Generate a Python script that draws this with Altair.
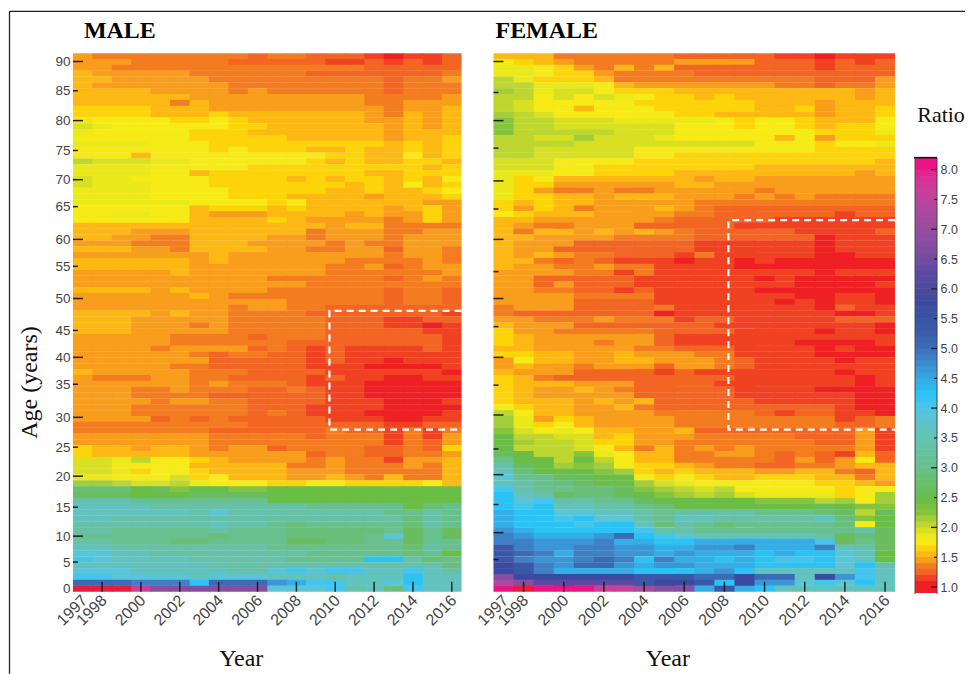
import altair as alt
import pandas as pd

years = list(range(1997, 2017))
# labelled tick positions: centre of the year's column
year_ticks = [1997.5, 1998.5, 2000.5, 2002.5, 2004.5, 2006.5, 2008.5, 2010.5, 2012.5, 2014.5, 2016.5]
inner_year_ticks = [1998.5, 2000.5, 2002.5, 2004.5, 2006.5, 2008.5, 2010.5, 2012.5, 2014.5, 2016.5]

# one character per year: level
levels = {"0":1.0,"1":1.1,"2":1.2,"3":1.3,"4":1.4,"5":1.5,"6":1.6,"7":1.7,"8":1.8,"9":1.9,
          "A":2.0,"B":2.1,"C":2.2,"D":2.4,"E":2.6,"F":2.8,"G":3.0,"H":3.3,"I":3.6,"J":3.8,
          "K":4.0,"L":4.2,"M":4.4,"N":4.6,"O":4.8,"P":5.0,"Q":5.3,"R":5.7,"S":6.2,"T":6.7,
          "U":7.2,"V":7.6,"W":8.0,"X":8.2}
color_domain = [1.0,1.1,1.2,1.3,1.4,1.5,1.6,1.7,1.8,1.9,2.0,2.1,2.2,2.4,2.6,2.8,3.0,3.3,3.6,3.8,
                4.0,4.2,4.4,4.6,4.8,5.0,5.3,5.7,6.2,6.7,7.2,7.6,8.0,8.2]
color_range = ["#EE2024","#F04223","#F26522","#F47C20","#F99D1C","#FDB813","#FDD40A","#F6EA17","#EBE91A","#D8E021",
               "#BDD630","#A3CD39","#86C440","#6ABD45","#69BD5F","#69BF78","#69C08F","#66C1A8","#62C3BE","#5BC5D8",
               "#45C4EC","#2BC3F3","#33AEE6","#3A96D6","#3E7FC6","#3C6BB6","#3958A8","#3A4AA0","#5B4AA0","#864EA1",
               "#A84A9D","#C8409A","#EA1487","#E81C3C"]

# rows from age 91 (top) to age 0 (bottom)
male_rows = [
"4"+"33333333"+"2"+"33"+"222"+"1"+"0"+"11"+"2",
"444"+"33333"+"22222"+"11"+"2"+"1"+"2"+"1"+"2",
"44"+"3333333333333"+"22222",
"5"+"44444"+"333333"+"2222222"+"3",
"55"+"44444"+"333333333"+"2"+"33"+"4",
"5"+"4444444"+"33333333"+"2"+"333",
"5555"+"4444"+"3"+"4"+"333333"+"2"+"333",
"555555"+"444444444"+"3"+"3"+"33"+"4",
"55555"+"3"+"5"+"44444444"+"33"+"444",
"6666"+"555"+"444"+"44444"+"4"+"3"+"44"+"5",
"6666"+"555"+"6"+"55"+"55555"+"4"+"3"+"5"+"4"+"5",
"8"+"7777"+"66"+"7"+"6"+"555555"+"4"+"4"+"5"+"4"+"5",
"98"+"77777"+"7"+"66"+"55555"+"5"+"4"+"5"+"4"+"5",
"8"+"77777"+"666"+"5"+"55555"+"5"+"4"+"55"+"5",
"777777"+"666"+"66"+"5555"+"5"+"4"+"55"+"6",
"8888777"+"66"+"666"+"666"+"6"+"5"+"6"+"5"+"6",
"7777777"+"6"+"7"+"666"+"55"+"6"+"55"+"6"+"5"+"6",
"777"+"5"+"777"+"77"+"7777"+"66"+"55"+"7"+"5"+"6",
"A"+"999"+"88"+"7"+"77777"+"6"+"5"+"6"+"55"+"66"+"5",
"888877777"+"66666666"+"6"+"5"+"6",
"8888"+"77"+"5"+"66666"+"666"+"55"+"666",
"9"+"88"+"7"+"777"+"6666"+"5"+"6"+"5"+"6"+"6"+"5"+"6"+"5"+"7",
"9"+"888"+"777"+"666666"+"6"+"5"+"6"+"5"+"7"+"5"+"6",
"8888"+"7777"+"66666"+"55"+"6"+"5"+"5"+"6"+"7",
"8888"+"7777"+"666"+"5"+"555"+"4"+"55"+"5"+"6",
"888888"+"77"+"77"+"6"+"7"+"555"+"5"+"5"+"5"+"4"+"4",
"777777"+"5"+"666"+"5"+"6"+"555"+"5"+"4"+"5"+"6"+"4",
"778877"+"5"+"444"+"5555"+"4"+"5"+"4"+"4"+"6"+"4",
"777777"+"555"+"5"+"6"+"5"+"444"+"4"+"3"+"4"+"6"+"4",
"5555"+"55555"+"5555"+"4"+"55"+"3333",
"555"+"444"+"555555"+"3"+"44"+"4"+"3"+"3"+"4"+"4",
"55"+"44"+"33"+"5555"+"44"+"3"+"444"+"3"+"444",
"444"+"333"+"555"+"4444"+"3"+"4"+"3"+"3"+"444",
"555"+"44"+"3"+"555"+"5"+"44"+"3"+"3"+"44"+"2"+"44"+"3",
"444444"+"4"+"5"+"44444444"+"3"+"44"+"3",
"555555"+"4"+"5"+"444444"+"33"+"3"+"3"+"4"+"3",
"555555"+"4444444"+"33"+"4"+"2"+"3"+"4"+"4",
"44444"+"5"+"4444444"+"33333"+"3"+"4",
"4444444444"+"333"+"333"+"2"+"3"+"4"+"3",
"444444444444"+"3333"+"3"+"333",
"5555"+"4"+"5"+"4444"+"333333"+"2"+"33"+"2",
"444444"+"5"+"4"+"33333333"+"2"+"33"+"2",
"44444444444"+"33333"+"2"+"33"+"2",
"44444444"+"3"+"44"+"33"+"2222222",
"5555"+"4"+"5"+"44"+"3333"+"2"+"22222"+"2"+"1",
"555"+"44444"+"33333"+"222"+"11"+"22",
"555"+"444"+"3"+"4"+"33333"+"222"+"11"+"01",
"555"+"4444"+"4"+"33333"+"2222"+"2"+"1"+"1",
"44444"+"3333"+"2"+"333"+"22222"+"2"+"1",
"44444"+"3333"+"3"+"3"+"22"+"2222"+"2"+"2"+"1",
"4444"+"3"+"4444"+"2"+"3"+"2"+"1"+"2"+"111"+"1"+"2"+"1",
"444444"+"3"+"2"+"33"+"22"+"1"+"2"+"11111"+"1",
"4444444"+"2"+"2"+"2"+"22"+"1"+"2"+"11"+"0"+"1"+"1"+"1",
"44444"+"33"+"2"+"2222"+"1"+"11"+"000"+"0"+"1",
"5"+"4444"+"4"+"3"+"33"+"2"+"22"+"2"+"1"+"1"+"1"+"111"+"0",
"4"+"333"+"44"+"33"+"2222"+"1"+"2"+"11"+"00"+"11",
"444444"+"3"+"4"+"333"+"2"+"1"+"1"+"1"+"00000",
"444"+"33"+"4"+"3"+"33"+"22"+"3"+"2"+"11"+"00000",
"444"+"33"+"33"+"22"+"2"+"22"+"2"+"11"+"00000",
"444"+"4"+"3"+"44"+"33"+"222"+"2"+"11"+"1"+"000"+"1",
"444"+"33333"+"3"+"222"+"1"+"11"+"1"+"0000",
"444"+"333333"+"2"+"3"+"2"+"1"+"11"+"0000"+"1",
"4444"+"2"+"3"+"2"+"3"+"2"+"222"+"2"+"111"+"00"+"11",
"333333333"+"222"+"222"+"2"+"11"+"2"+"2",
"3333333"+"22"+"222"+"2"+"3"+"22"+"1"+"3"+"1"+"3",
"4444444"+"333"+"33"+"2"+"333"+"1"+"3"+"1"+"4",
"4444444"+"3"+"3333"+"3"+"333"+"1"+"3"+"2"+"4",
"6"+"55"+"4"+"55"+"4"+"3"+"44"+"2"+"3333"+"22"+"3"+"2"+"6",
"6"+"55"+"5"+"55"+"4"+"4"+"4444"+"2"+"3"+"3"+"2"+"2"+"3"+"3"+"4",
"99"+"8"+"A"+"77"+"6"+"5"+"44"+"4"+"4"+"3"+"4"+"3"+"3"+"1"+"4"+"4"+"5",
"99"+"7"+"7"+"77"+"5"+"5"+"555"+"3"+"3"+"4"+"3"+"3"+"3"+"4"+"3"+"5",
"99"+"8"+"6"+"77"+"6"+"5"+"555"+"44"+"4"+"33333"+"5",
"88"+"77"+"7"+"9"+"6"+"7"+"555"+"44"+"5"+"4"+"3"+"5"+"3"+"3"+"5",
"BB"+"A"+"99"+"A"+"8"+"7"+"77"+"6"+"6"+"77"+"66"+"6"+"6"+"7"+"5",
"FFF"+"D"+"E"+"C"+"D"+"D"+"C"+"C"+"DDDDDDDDDD",
"EEE"+"D"+"D"+"D"+"E"+"E"+"E"+"E"+"DDDDDDDDDD",
"HHH"+"GGGGGGG"+"DDDDDDDDDD",
"IIII"+"HHHHHHHH"+"GGGGG"+"D"+"F"+"G",
"IIIII"+"I"+"H"+"J"+"HHHHHHHH"+"G"+"G"+"H"+"G",
"II"+"HHHHHHHHHHHH"+"HH"+"H"+"F"+"H"+"G",
"HHHHHHH"+"I"+"HH"+"G"+"F"+"GGGGG"+"F"+"H"+"G",
"HH"+"GGGGG"+"H"+"GGG"+"FF"+"FF"+"F"+"G"+"E"+"G"+"E",
"GG"+"GGGGG"+"F"+"GGG"+"FF"+"FF"+"G"+"J"+"E"+"G"+"E",
"HH"+"GGG"+"FF"+"GGG"+"G"+"EE"+"FF"+"GG"+"E"+"G"+"G",
"II"+"HHHHHHHH"+"GGG"+"GGG"+"G"+"F"+"H"+"G",
"JJ"+"II"+"HHHHHH"+"HH"+"GGGG"+"G"+"F"+"G"+"D",
"K"+"J"+"IIII"+"HHHHH"+"GGGG"+"LL"+"H"+"F"+"G",
"IIIIIII"+"HHHHHHHHHHHH"+"F",
"JJJ"+"IIIII"+"HH"+"J"+"K"+"J"+"K"+"K"+"I"+"I"+"K"+"I"+"H",
"KK"+"JJJJ"+"I"+"JJJ"+"III"+"H"+"I"+"II"+"L"+"I"+"I",
"PPP"+"O"+"O"+"O"+"L"+"PPP"+"N"+"M"+"K"+"K"+"I"+"I"+"J"+"L"+"I"+"I",
"XXX"+"V"+"TTTTTT"+"JJJ"+"K"+"H"+"I"+"F"+"K"+"I"+"I",
]

female_rows = [
"555"+"333333"+"22222"+"11"+"0"+"111",
"7"+"6"+"5"+"4"+"33333"+"4444"+"222"+"1"+"2"+"1"+"2",
"88"+"7"+"6"+"4"+"3"+"5"+"3"+"5"+"2222222"+"1"+"222",
"88"+"7"+"66"+"4"+"3333"+"222222"+"2"+"222",
"A"+"8"+"6"+"66"+"5"+"3333333333"+"2"+"22"+"4",
"AA"+"888"+"7"+"5"+"4444444"+"33"+"2"+"33"+"4",
"BA8"+"99"+"7"+"666"+"55555"+"55"+"55"+"4"+"5",
"AA"+"7"+"9"+"7"+"9"+"8"+"7"+"6"+"6"+"5"+"6"+"5555"+"5"+"5"+"4"+"5",
"A"+"9"+"7777"+"7"+"666666"+"555"+"4"+"555",
"A"+"9"+"77"+"5"+"777"+"66666"+"55"+"6"+"4"+"55"+"6",
"B"+"A"+"9"+"7777"+"77"+"66"+"5555"+"5"+"4"+"55"+"6",
"C"+"AA"+"999"+"888"+"88"+"7"+"6"+"77"+"6"+"5"+"55"+"7",
"C"+"A"+"A"+"999"+"999"+"777"+"6"+"77"+"6"+"5"+"66"+"7",
"C"+"A"+"AAAA"+"999"+"7777"+"77"+"7"+"6"+"66"+"8",
"AA"+"99"+"B"+"999"+"8"+"77777"+"5"+"7"+"4"+"66"+"6",
"AA"+"AA"+"999"+"9"+"99999"+"777"+"6"+"77"+"8",
"AA"+"99999"+"777777777"+"6666",
"AA"+"99999"+"77"+"66666666666",
"999"+"7777"+"666666666666"+"5",
"999"+"77"+"66"+"666666"+"5555555",
"888"+"77"+"6"+"666"+"5555"+"55"+"555"+"4"+"5",
"8"+"6"+"7"+"555"+"555"+"5"+"4"+"55"+"444"+"4444",
"8"+"66"+"444"+"444"+"55"+"444444444",
"8"+"6"+"4"+"33"+"4"+"33"+"4"+"44"+"44"+"3"+"44"+"4444",
"8"+"66"+"55"+"4"+"555"+"444"+"3"+"4"+"3"+"4"+"3333",
"6"+"5"+"6"+"55"+"4"+"4444"+"3"+"333333333",
"6"+"4"+"6"+"5"+"3"+"4"+"44"+"5"+"4"+"3"+"222222222",
"7"+"6"+"55"+"5"+"4"+"44"+"4"+"33"+"222222"+"1"+"22",
"55"+"44444"+"4"+"3"+"222"+"22"+"111111",
"5"+"4"+"33"+"4"+"44"+"2"+"2"+"222"+"11111111",
"5"+"3"+"55"+"4"+"5"+"4"+"5"+"4"+"3"+"222"+"22"+"1111"+"2",
"55"+"44"+"44"+"3"+"333"+"222222"+"0"+"111",
"5"+"44"+"4"+"222222"+"111111"+"0"+"111",
"5"+"4"+"4"+"2"+"222222"+"111111"+"0"+"111",
"5"+"4"+"5"+"4"+"33"+"222"+"1"+"3"+"1"+"1111"+"00"+"11",
"5"+"5"+"3"+"2"+"3"+"2"+"111"+"0"+"1"+"1"+"0"+"1"+"000000",
"5"+"44"+"33"+"4"+"33"+"1"+"111"+"00000000",
"44"+"44"+"33"+"1"+"3"+"1111"+"111"+"1"+"0"+"111",
"44"+"22"+"2"+"2"+"2"+"1"+"1111"+"1"+"0"+"1"+"00000",
"44"+"2"+"4"+"22"+"2"+"1"+"1111"+"1"+"1"+"1"+"0000"+"1",
"44"+"33"+"22"+"1"+"2"+"1111"+"1"+"0000000",
"4444"+"33"+"33"+"1111"+"11"+"1"+"00"+"1"+"1"+"0",
"4444"+"222"+"2"+"1111"+"11"+"0"+"1"+"0"+"11"+"0",
"3"+"444"+"222"+"2"+"3"+"1111111"+"0"+"2"+"1"+"1",
"3"+"222"+"2222"+"0"+"111"+"11111"+"00"+"1",
"44"+"3"+"33"+"4"+"333"+"1"+"22"+"11111"+"222",
"5"+"444"+"2222222"+"111111"+"1"+"1"+"0",
"6"+"44"+"33"+"3"+"33"+"2"+"222"+"1111"+"0"+"11"+"0",
"6"+"5"+"444"+"4"+"44"+"2"+"111"+"1111"+"1"+"1"+"1"+"1",
"6"+"5"+"444"+"3"+"44"+"2"+"111"+"111"+"0000"+"1",
"55"+"444"+"44"+"3"+"3"+"222"+"1111"+"0"+"1"+"00",
"66"+"55"+"4"+"4"+"5"+"4"+"44"+"33"+"1111"+"00"+"00",
"4"+"7"+"55"+"44"+"55"+"4"+"44"+"3"+"2"+"1111"+"0"+"1"+"1",
"4"+"5"+"44"+"3"+"444"+"2"+"44"+"3"+"2"+"11111"+"11",
"5"+"4"+"44"+"2"+"222"+"1"+"2"+"1"+"111111"+"0"+"11",
"6"+"5"+"3"+"22222"+"2222"+"11111"+"1"+"0"+"1",
"6"+"5"+"55"+"44"+"4"+"2222"+"1"+"111111"+"0"+"1",
"6"+"5"+"44"+"5"+"4"+"3"+"22222"+"1111"+"0000",
"6"+"5"+"44444"+"22222"+"111111"+"00",
"6"+"5"+"55"+"4"+"5"+"4"+"5"+"2222"+"2"+"11111"+"00",
"7"+"6"+"55"+"44"+"5"+"3"+"22222"+"2"+"222"+"1"+"00",
"A"+"7"+"5"+"5"+"4"+"444"+"3"+"3333"+"2"+"1"+"22"+"1"+"1"+"0",
"B"+"8"+"4"+"6"+"5"+"444"+"4"+"3"+"3"+"33"+"3"+"333"+"1"+"2"+"3",
"B"+"8"+"6"+"7"+"5"+"4444"+"33333333"+"22"+"3",
"C"+"9"+"7"+"8"+"7"+"55"+"44"+"5"+"22222222"+"4"+"1",
"D"+"A"+"A"+"99"+"5"+"6"+"444"+"33333"+"222"+"4"+"1",
"D"+"B"+"AA"+"9"+"66"+"44"+"33333"+"33"+"22"+"4"+"1",
"D"+"A"+"AA"+"9"+"7"+"5"+"3"+"5"+"3"+"4"+"3"+"4"+"33"+"3"+"3"+"3"+"4"+"1",
"E"+"D"+"A"+"A"+"C"+"8"+"7"+"55"+"33"+"44"+"3"+"2"+"3"+"2"+"1"+"5"+"2",
"G"+"D"+"D"+"A"+"D"+"A"+"7"+"55"+"33"+"33"+"3"+"2"+"4"+"2"+"4"+"7"+"2",
"H"+"E"+"D"+"B"+"C"+"B"+"7"+"6"+"6"+"5"+"4"+"33"+"22"+"33"+"4"+"5"+"5",
"I"+"F"+"D"+"D"+"D"+"C"+"B"+"6"+"5"+"6"+"5"+"5"+"5"+"4"+"4"+"5"+"5"+"3"+"2"+"5",
"J"+"GG"+"EE"+"DD"+"7"+"6"+"7"+"6"+"55"+"666"+"5"+"5"+"3"+"5",
"I"+"H"+"G"+"F"+"E"+"DD"+"B"+"9"+"8"+"7"+"77777"+"6"+"6"+"5"+"4",
"K"+"H"+"GG"+"FF"+"E"+"C"+"B"+"A"+"9"+"A"+"7"+"777"+"7"+"6"+"7"+"7",
"L"+"I"+"H"+"E"+"FF"+"E"+"D"+"C"+"B"+"A"+"B"+"9"+"888"+"8"+"6"+"7"+"B",
"L"+"J"+"K"+"HH"+"GG"+"E"+"DDDDD"+"CCC"+"A"+"B"+"7"+"B",
"L"+"K"+"L"+"II"+"HH"+"G"+"F"+"DDDDDDD"+"E"+"D"+"C"+"C",
"M"+"LL"+"JJ"+"II"+"H"+"G"+"H"+"HHHGGG"+"F"+"E"+"A"+"E",
"M"+"LL"+"K"+"L"+"JJ"+"H"+"G"+"II"+"HHHHH"+"I"+"F"+"C"+"D",
"M"+"LLL"+"K"+"LL"+"I"+"F"+"H"+"G"+"F"+"G"+"GGG"+"G"+"F"+"7"+"D",
"N"+"M"+"LLLLL"+"K"+"HH"+"GGGGGGG"+"G"+"H"+"E",
"O"+"N"+"MMM"+"N"+"P"+"L"+"K"+"J"+"I"+"IIIII"+"H"+"E"+"F"+"E",
"O"+"O"+"NNN"+"O"+"M"+"M"+"L"+"L"+"MMMMMM"+"K"+"E"+"G"+"E",
"QONNOONNMMNNOMMMOIHE",
"QPOMOONNMNMMMLMLLJID",
"QONNOPOLOMMLMLKKLJID",
"RQONPPNMNNMMMLLLLJLH",
"RQOMMMMLLLMNLIIIIIKI",
"T"+"RRRRRR"+"Q"+"QQ"+"PP"+"R"+"PP"+"I"+"R"+"N"+"K"+"I",
"U"+"T"+"SSSSS"+"Q"+"RR"+"Q"+"L"+"R"+"NN"+"J"+"K"+"J"+"L"+"I",
"W"+"X"+"W"+"WW"+"VV"+"U"+"TT"+"M"+"Q"+"M"+"L"+"IIIIII",
]

# y-tick positions as they sit on the picture, in age units
male_age_ticks = [0.63,5.07,9.5,14.45,19.75,24.7,29.8,35.45,40.05,44.65,50.1,55.6,60.2,65.8,70.4,75.4,80.5,85.6,90.6]
male_long = [9.5,19.75,29.8,40.05,50.1,60.2,70.4,80.5,90.6]
male_short = [5.07,14.45,24.7,35.45,44.65,55.6,65.8,75.4,85.6]
female_long = [10.1,20.0,30.2,40.05,50.1,60.2,70.2,80.5,90.6]
female_short = [5.5,14.9,24.4,35.3,45.3,54.7,65.4,75.8,85.3]

male_box_years = [2017, 2010.2, 2010.2, 2017]
male_box_ages = [48, 48, 27.7, 27.7]
female_box_years = [2017, 2008.7, 2008.7, 2017]
female_box_ages = [63.5, 63.5, 27.7, 27.7]

bar_levels = [0.9,1.0,1.1,1.2,1.3,1.4,1.5,1.6,1.7,1.8,1.9,2.0,2.1,2.2,2.3,2.4,2.5,2.6,2.7,2.8,2.9,3.0,
              3.1,3.2,3.3,3.4,3.5,3.6,3.7,3.8,3.9,4.0,4.1,4.2,4.3,4.4,4.5,4.6,4.7,4.8,4.9,5.0,5.1,5.2,
              5.3,5.4,5.5,5.6,5.7,5.8,5.9,6.0,6.1,6.2,6.3,6.4,6.5,6.6,6.7,6.8,6.9,7.0,7.1,7.2,7.3,7.4,
              7.5,7.6,7.7,7.8,7.9,8.0]
bar_labels = [1.0,1.5,2.0,2.5,3.0,3.5,4.0,4.5,5.0,5.5,6.0,6.5,7.0,7.5,8.0]
bar_major = [1.0,2.0,3.0,4.0,5.0,6.0,7.0,8.0]
bar_minor = [1.5,2.5,3.5,4.5,5.5,6.5,7.5]

SERIF = "Liberation Serif"
SANS = "Liberation Sans"
color_scale = alt.Scale(domain=color_domain, range=color_range, clamp=True)
HEIGHT = 539
SEAM = 0.04  # small overlap so no white hairlines show between cells


def frame(rows):
    recs = []
    for i, row in enumerate(rows):
        age = 91 - i
        row = (row + row[-1] * 20)[:20]
        for j, c in enumerate(row):
            recs.append({"year": years[j], "year_end": min(years[j] + 1 + SEAM, 2017), "age": age,
                         "age_end": min(age + 1 + SEAM, 92), "ratio": levels[c]})
    return pd.DataFrame(recs)


def panel(rows, width, title, title_dx, box_x, box_y, long_t, short_t, show_labels, title_x, extra):
    x_scale = alt.Scale(domain=[1997, 2017], nice=False, zero=False)
    y_scale = alt.Scale(domain=[0, 92], nice=False, zero=False)
    y_axis = alt.Axis(values=male_age_ticks, labelExpr="round(datum.value/5)*5", ticks=False, domain=False,
                      grid=False, labelFont=SANS, labelFontSize=13.5, labelColor="#444", labelPadding=3,
                      title="Age (years)", titleFont=SERIF, titleFontSize=24, titleFontWeight="normal",
                      titleColor="#111", titleX=-31, titleY=329, labelOverlap=False) if show_labels else None
    x_axis = alt.Axis(
        values=year_ticks, labelExpr="floor(datum.value)", ticks=False, domain=False, grid=False,
        labelAngle=-45, labelFont=SANS, labelFontSize=16, labelColor="#444", labelPadding=0, labelOffset=-4,
        labelOverlap=False, labelFlush=False, labelBound=False,
        title="Year", titleFont=SERIF, titleFontSize=24, titleFontWeight="normal", titleColor="#111",
        titleX=title_x, titleY=74, titleBaseline="alphabetic", titleAlign="center")
    heat = alt.Chart(frame(rows)).mark_rect().encode(
        x=alt.X("year:Q", scale=x_scale, axis=x_axis),
        x2="year_end:Q",
        y=alt.Y("age:Q", scale=y_scale, axis=y_axis),
        y2="age_end:Q",
        color=alt.Color("ratio:Q", scale=color_scale, legend=None),
    )
    box = alt.Chart(pd.DataFrame({"x": box_x, "y": box_y, "o": list(range(len(box_x)))})).mark_line(
        color="white", strokeWidth=2.2, strokeDash=[7, 5]).encode(
        x=alt.X("x:Q", scale=x_scale, axis=x_axis), y=alt.Y("y:Q", scale=y_scale, axis=y_axis), order="o:O")
    tick_l = alt.Chart(pd.DataFrame({"a": long_t})).mark_rule(color="#111", strokeWidth=1.5, opacity=0.9).encode(
        y=alt.Y("a:Q", scale=y_scale, axis=y_axis), x=alt.value(0), x2=alt.value(10))
    tick_s = alt.Chart(pd.DataFrame({"a": short_t})).mark_rule(color="#111", strokeWidth=1.5, opacity=0.9).encode(
        y=alt.Y("a:Q", scale=y_scale, axis=y_axis), x=alt.value(0), x2=alt.value(5))
    tick_x = alt.Chart(pd.DataFrame({"t": inner_year_ticks})).mark_rule(color="#111", strokeWidth=1.5, opacity=0.85).encode(
        x=alt.X("t:Q", scale=x_scale, axis=x_axis), y=alt.value(HEIGHT - 10), y2=alt.value(HEIGHT))
    head = alt.Chart(pd.DataFrame({"t": [title]})).mark_text(
        font=SERIF, fontSize=24, fontWeight="bold", color="#000", align="left", baseline="alphabetic").encode(
        text="t:N", x=alt.value(title_dx), y=alt.value(-15))
    return alt.layer(heat, box, tick_l, tick_s, tick_x, head, *extra).properties(width=width, height=HEIGHT)


# page frame (top and left edge of the figure)
frame_v = alt.Chart(pd.DataFrame({"f": [1]})).mark_rule(color="#222", strokeWidth=1.3).encode(
    x=alt.value(-63.5), y=alt.value(-42), y2=alt.value(621))
frame_h = alt.Chart(pd.DataFrame({"f": [1]})).mark_rule(color="#222", strokeWidth=1.3).encode(
    x=alt.value(-63.5), x2=alt.value(893), y=alt.value(-42))

left = panel(male_rows, 389, "MALE", 11, male_box_years, male_box_ages, male_long, male_short, True, 168,
             [frame_v, frame_h])
right = panel(female_rows, 402, "FEMALE", 2, female_box_years, female_box_ages, female_long, female_short, False, 174, [])

# colour bar: the panel is 10 wide and the bar starts 12 to its left, so it sits 20 from the right panel
bar_scale = alt.Scale(domain=[0.921, 9.95], nice=False, zero=False)
bar_axis = alt.Axis(orient="right", values=bar_labels, format=".1f", ticks=False, domain=False, grid=False,
                    labelFont=SANS, labelFontSize=12.5, labelColor="#444", labelPadding=3, title=None,
                    labelOverlap=False)
bar_df = pd.DataFrame({"v": bar_levels})
bar_df["v_end"] = [v + 0.2 if v == 8.0 else v + 0.11 for v in bar_levels]
bar_rect = alt.Chart(bar_df).mark_rect().encode(
    x=alt.value(-12), x2=alt.value(10),
    y=alt.Y("v:Q", scale=bar_scale, axis=bar_axis),
    y2="v_end:Q",
    color=alt.Color("v:Q", scale=color_scale, legend=None),
)
edge = pd.DataFrame({"lo": [0.88], "hi": [8.2]})
bar_left = alt.Chart(edge).mark_rule(color="#444", strokeWidth=1).encode(
    x=alt.value(-12), y=alt.Y("lo:Q", scale=bar_scale, axis=bar_axis), y2="hi:Q")
bar_right = alt.Chart(edge).mark_rule(color="#444", strokeWidth=1).encode(
    x=alt.value(10), y=alt.Y("lo:Q", scale=bar_scale, axis=bar_axis), y2="hi:Q")
bar_top = alt.Chart(edge).mark_rule(color="#111", strokeWidth=1.6).encode(
    x=alt.value(-13), x2=alt.value(10), y=alt.Y("hi:Q", scale=bar_scale, axis=bar_axis))
bar_maj = alt.Chart(pd.DataFrame({"v": bar_major})).mark_rule(color="#222", strokeWidth=1.3).encode(
    x=alt.value(4), x2=alt.value(10), y=alt.Y("v:Q", scale=bar_scale, axis=bar_axis))
bar_min = alt.Chart(pd.DataFrame({"v": bar_minor})).mark_rule(color="#222", strokeWidth=1.3).encode(
    x=alt.value(7), x2=alt.value(10), y=alt.Y("v:Q", scale=bar_scale, axis=bar_axis))
bar_title = alt.Chart(pd.DataFrame({"t": ["Ratio"]})).mark_text(
    font=SERIF, fontSize=22, color="#111", align="center", baseline="alphabetic").encode(
    text="t:N", x=alt.value(14), y=alt.value(69))
bar = alt.layer(bar_rect, bar_left, bar_right, bar_top, bar_maj, bar_min, bar_title).properties(width=10, height=HEIGHT)

chart = alt.hconcat(left, right, bar, spacing=32, bounds="flush").resolve_scale(
    color="independent").configure_view(stroke=None).properties(
    padding={"left": 0, "top": 2, "right": 0, "bottom": 0}, background="white")
chart.save("out.html", embed_options={"renderer": "svg", "actions": False})
